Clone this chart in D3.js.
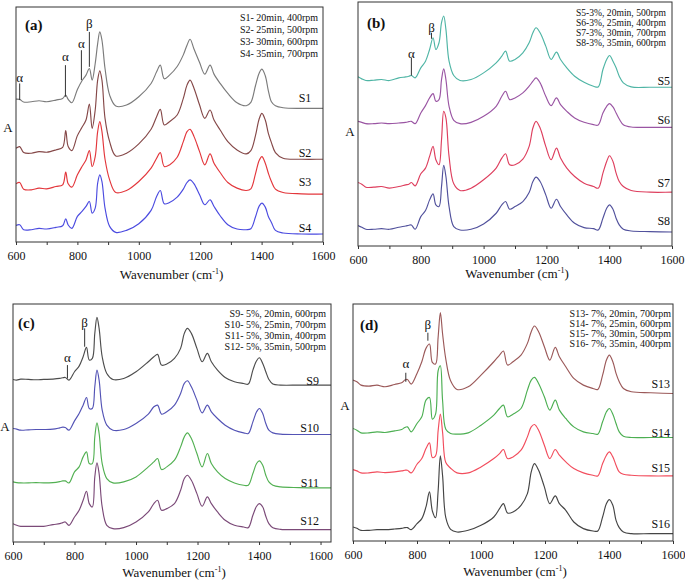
<!DOCTYPE html>
<html>
<head>
<meta charset="utf-8">
<script src="https://cdn.jsdelivr.net/npm/d3@7"></script>
<style>
  body { margin: 0; background: #fff; }
  svg { display: block; font-family: "Liberation Serif", "Times New Roman", serif; }
</style>
</head>
<body>
<div id="chart"></div>
<script>
// wavenumber grid shared by every spectrum (cm-1)
var wavenumbers = [600, 612, 625, 650, 675, 700, 730, 752, 762, 770,
  782, 800, 815, 828, 839, 848, 858, 866, 873, 880,
  890, 905, 925, 960, 1000, 1040, 1058, 1070, 1083, 1100,
  1125, 1145, 1157, 1167, 1180, 1198, 1215, 1232, 1245, 1265,
  1290, 1320, 1350, 1365, 1380, 1392, 1401, 1412, 1422, 1432,
  1445, 1470, 1530, 1600, 1640];

// absorbance, arbitrary units (stacked offsets included)
var s1 = [430, 429, 421, 422, 425, 422, 427, 432, 442, 429, 419, 459, 485, 502, 522, 487, 537, 597, 632, 607, 522, 442, 409, 412, 437, 477, 512, 532, 491, 502, 528, 563, 592, 610, 580, 540, 505, 532, 505, 477, 447, 419, 410, 420, 470, 508, 520, 500, 455, 422, 410, 404, 402, 402, 402];
var s2 = [282, 287, 269, 267, 272, 270, 277, 285, 335, 287, 275, 320, 345, 367, 415, 342, 397, 487, 515, 487, 372, 302, 259, 267, 295, 339, 377, 399, 352, 362, 382, 432, 472, 487, 462, 412, 372, 397, 367, 337, 302, 277, 265, 275, 320, 370, 387, 367, 327, 299, 269, 252, 249, 249, 249];
var s3 = [175, 179, 159, 157, 162, 160, 167, 172, 210, 175, 165, 202, 227, 247, 275, 227, 257, 332, 362, 332, 249, 187, 149, 155, 182, 222, 252, 269, 227, 232, 255, 302, 332, 339, 317, 272, 232, 265, 237, 209, 179, 162, 155, 160, 205, 245, 257, 237, 207, 182, 159, 149, 145, 144, 144];
var s4 = [50, 52, 37, 37, 41, 39, 44, 49, 70, 51, 41, 77, 92, 107, 122, 87, 102, 177, 202, 182, 102, 47, 29, 35, 55, 95, 137, 155, 115, 119, 135, 159, 179, 187, 175, 142, 112, 127, 107, 79, 52, 39, 37, 40, 75, 108, 117, 105, 77, 59, 35, 27, 24, 24, 24];

var s5 = [506, 500, 495, 496, 498, 495, 503, 506, 508, 510, 503, 533, 553, 588, 623, 588, 608, 668, 688, 648, 553, 510, 495, 498, 518, 548, 568, 583, 553, 558, 578, 608, 638, 653, 638, 598, 558, 580, 558, 533, 508, 490, 478, 476, 528, 558, 570, 553, 533, 508, 488, 476, 475, 475, 475];
var s6 = [373, 370, 366, 366, 368, 366, 368, 370, 372, 373, 366, 398, 420, 443, 456, 433, 438, 498, 530, 498, 418, 376, 366, 370, 388, 418, 448, 463, 438, 443, 458, 478, 493, 503, 488, 448, 420, 443, 423, 403, 383, 370, 363, 362, 398, 418, 426, 416, 398, 380, 363, 356, 355, 355, 355];
var s7 = [190, 185, 176, 176, 178, 173, 178, 183, 185, 190, 180, 216, 233, 268, 298, 258, 243, 318, 403, 383, 268, 186, 166, 173, 198, 233, 263, 276, 243, 243, 260, 298, 353, 373, 353, 298, 258, 293, 263, 233, 208, 188, 178, 173, 218, 253, 270, 253, 218, 193, 178, 166, 161, 161, 161];
var s8 = [61, 56, 50, 50, 52, 50, 56, 60, 62, 63, 50, 88, 106, 138, 156, 123, 118, 178, 241, 208, 118, 58, 48, 50, 66, 98, 123, 133, 110, 118, 133, 160, 193, 206, 193, 153, 113, 140, 118, 93, 68, 55, 52, 48, 83, 113, 123, 110, 83, 63, 50, 45, 43, 42, 42];

var s9 = [487, 485, 488, 487, 486, 487, 488, 490, 492, 493, 485, 510, 527, 555, 583, 545, 550, 625, 673, 640, 555, 505, 487, 490, 510, 540, 555, 562, 530, 533, 550, 580, 625, 640, 625, 580, 540, 565, 540, 515, 493, 480, 475, 473, 515, 543, 552, 535, 510, 487, 473, 470, 470, 470, 470];
var s10 = [340, 338, 335, 336, 337, 337, 338, 342, 344, 343, 335, 363, 385, 410, 433, 400, 400, 465, 515, 485, 395, 350, 335, 337, 355, 383, 405, 410, 383, 390, 410, 445, 475, 483, 465, 425, 387, 410, 390, 370, 350, 335, 327, 325, 360, 390, 400, 385, 355, 335, 327, 323, 322, 322, 322];
var s11 = [180, 178, 177, 177, 178, 177, 178, 181, 183, 183, 177, 210, 225, 255, 270, 235, 235, 315, 357, 325, 235, 190, 177, 180, 195, 225, 240, 250, 217, 225, 245, 285, 315, 327, 310, 265, 225, 265, 235, 210, 190, 177, 170, 170, 205, 235, 243, 230, 200, 180, 170, 165, 163, 162, 162];
var s12 = [55, 50, 47, 47, 47, 47, 52, 55, 58, 60, 50, 75, 95, 125, 152, 115, 105, 195, 237, 205, 105, 50, 40, 43, 60, 90, 115, 125, 95, 100, 115, 155, 190, 200, 185, 145, 107, 135, 115, 90, 65, 50, 45, 43, 80, 107, 115, 105, 77, 55, 43, 38, 37, 37, 37];

var s13 = [482, 477, 467, 464, 467, 462, 469, 474, 482, 484, 470, 502, 537, 577, 590, 535, 530, 610, 684, 620, 545, 480, 454, 462, 497, 537, 557, 569, 527, 537, 557, 592, 627, 644, 627, 582, 542, 580, 552, 522, 487, 467, 457, 454, 497, 542, 557, 537, 502, 477, 457, 447, 444, 442, 442];
var s14 = [337, 332, 324, 324, 327, 325, 330, 334, 340, 342, 327, 352, 372, 422, 430, 365, 380, 510, 525, 420, 335, 322, 320, 324, 347, 377, 397, 407, 372, 380, 397, 452, 482, 490, 472, 432, 392, 422, 392, 367, 342, 327, 322, 320, 357, 387, 397, 380, 352, 327, 314, 310, 310, 310, 310];
var s15 = [214, 210, 204, 204, 207, 205, 207, 210, 212, 212, 204, 230, 247, 277, 294, 250, 255, 330, 380, 325, 235, 218, 204, 204, 222, 247, 262, 274, 247, 252, 272, 312, 342, 349, 332, 287, 247, 274, 257, 237, 217, 204, 197, 195, 232, 257, 267, 252, 227, 207, 200, 197, 195, 195, 195];
var s16 = [42, 38, 32, 32, 34, 34, 36, 38, 40, 40, 34, 52, 67, 102, 147, 90, 70, 150, 255, 195, 70, 35, 27, 32, 47, 72, 97, 112, 84, 87, 107, 142, 207, 232, 212, 162, 112, 135, 112, 92, 57, 37, 30, 30, 72, 112, 124, 107, 62, 40, 27, 22, 22, 22, 22];

var namesA = ["S1", "S2", "S3", "S4"];
var namesB = ["S5", "S6", "S7", "S8"];
var namesC = ["S9", "S10", "S11", "S12"];
var namesD = ["S13", "S14", "S15", "S16"];

var legendA = ["S1- 20min, 400rpm", "S2- 25min, 500rpm", "S3- 30min, 600rpm", "S4- 35min, 700rpm"];
var legendB = ["S5-3%, 20min, 500rpm", "S6-3%, 25min, 400rpm", "S7-3%, 30min, 700rpm", "S8-3%, 35min, 600rpm"];
var legendC = ["S9- 5%, 20min, 600rpm", "S10- 5%, 25min, 700rpm", "S11- 5%, 30min, 400rpm", "S12- 5%, 35min, 500rpm"];
var legendD = ["S13- 7%, 20min, 700rpm", "S14- 7%, 25min, 600rpm", "S15- 7%, 30min, 500rpm", "S16- 7%, 35min, 400rpm"];

// where each sample name sits: [wavenumber, absorbance]
var nameAtA = [[1562, 421], [1562, 256], [1562, 168], [1562, 30]];
var nameAtB = [[1594, 482], [1594, 365], [1594, 177], [1594, 63]];
var nameAtC = [[1595, 470], [1595, 330], [1595, 165], [1595, 51]];
var nameAtD = [[1591, 458], [1591, 312], [1591, 207], [1591, 39]];

// alpha / beta phase markers: [symbol, wavenumber, line bottom, line top, label centre]
var markersA = [["α", 612, 427, 477, 495], ["α", 761, 437, 532, 557], ["α", 813, 487, 577, 597], ["β", 839, 527, 632, 657]];
var markersB = [["α", 770, 510, 563, 575], ["β", 834, 620, 638, 655]];
var markersC = [["α", 777, 490, 530, 552], ["β", 833, 585, 640, 657]];
var markersD = [["α", 765, 477, 504, 532], ["β", 834, 600, 624, 649]];

var xTicks = [600, 700, 800, 900, 1000, 1100, 1200, 1300, 1400, 1500, 1600];

var panels = [
  {tag: "(a)", left: 16, right: 323, top: 7, bottom: 242, xmax: 1600, ymax: 707,
   series: [s1, s2, s3, s4], names: namesA, nameAt: nameAtA, legend: legendA, markers: markersA,
   colors: ["#7b7b7b", "#854848", "#e3373c", "#4b4be0"],
   tagPos: [9, 23], legPos: [5, 13.5, 12], legSize: 10, aPos: [8, 132], titleY: 37},
  {tag: "(b)", left: 358, right: 672, top: 2, bottom: 246, xmax: 1600, ymax: 730,
   series: [s5, s6, s7, s8], names: namesB, nameAt: nameAtB, legend: legendB, markers: markersB,
   colors: ["#4fb5a5", "#9a55a3", "#de3f5e", "#51519c"],
   tagPos: [9, 26], legPos: [6, 14, 10], legSize: 9.6, aPos: [-8, 136], titleY: 32},
  {tag: "(c)", left: 13, right: 331, top: 304, bottom: 542, xmax: 1634, ymax: 713,
   series: [s9, s10, s11, s12], names: namesC, nameAt: nameAtC, legend: legendC, markers: markersC,
   colors: ["#4d4d4d", "#5353b5", "#52b052", "#7b4a78"],
   tagPos: [5, 24], legPos: [5, 12.5, 11.3], legSize: 10, aPos: [-8, 431], titleY: 35},
  {tag: "(d)", left: 353, right: 673, top: 304, bottom: 541, xmax: 1600, ymax: 710,
   series: [s13, s14, s15, s16], names: namesD, nameAt: nameAtD, legend: legendD, markers: markersD,
   colors: ["#9b5959", "#4caf52", "#f24d5d", "#454545"],
   tagPos: [7, 26], legPos: [2, 13, 10], legSize: 10, aPos: [-8, 410], titleY: 35}
];

var svg = d3.select("#chart").append("svg")
  .attr("width", 685)
  .attr("height", 584);

panels.forEach(function(p, pi) {
  var x = d3.scaleLinear().domain([600, p.xmax]).range([p.left, p.right]);
  var y = d3.scaleLinear().domain([0, p.ymax]).range([p.bottom, p.top]);
  var g = svg.append("g");

  g.append("clipPath").attr("id", "clip" + pi)
    .append("rect")
    .attr("x", p.left).attr("y", p.top)
    .attr("width", p.right - p.left).attr("height", p.bottom - p.top);

  // spectra
  var line = d3.line()
    .x(function(d, i) { return x(wavenumbers[i]); })
    .y(function(d) { return y(d); })
    .curve(d3.curveCatmullRom.alpha(0.5));
  g.append("g").attr("clip-path", "url(#clip" + pi + ")")
    .selectAll("path")
    .data(p.series)
    .enter().append("path")
    .attr("d", line)
    .attr("fill", "none")
    .attr("stroke", function(d, i) { return p.colors[i]; })
    .attr("stroke-width", 1.15);

  // frame
  g.append("rect")
    .attr("x", p.left).attr("y", p.top)
    .attr("width", p.right - p.left).attr("height", p.bottom - p.top)
    .attr("fill", "none").attr("stroke", "#333").attr("stroke-width", 1);

  // x axis
  var ax = g.append("g")
    .attr("transform", "translate(0," + p.bottom + ")")
    .call(d3.axisBottom(x).tickValues(xTicks).tickSize(3).tickPadding(6)
      .tickFormat(function(d) { return d % 200 === 0 ? d : ""; }));
  ax.select(".domain").remove();
  ax.selectAll("line").attr("stroke", "#333");
  ax.selectAll("text").attr("font-size", 12).attr("fill", "#111")
    .attr("font-family", "Liberation Serif, serif");

  var title = g.append("text")
    .attr("x", (p.left + p.right) / 2 + 2)
    .attr("y", p.bottom + p.titleY)
    .attr("text-anchor", "middle")
    .attr("font-size", 13).attr("fill", "#111");
  title.append("tspan").text("Wavenumber (cm");
  title.append("tspan").text("-1").attr("font-size", 8).attr("dy", -5);
  title.append("tspan").text(")").attr("dy", 5);

  // y label
  g.append("text")
    .attr("x", p.aPos[0] < 0 ? p.left + p.aPos[0] : p.aPos[0])
    .attr("y", p.aPos[1])
    .attr("text-anchor", "middle")
    .attr("font-size", 13).attr("fill", "#111")
    .text("A");

  // panel tag
  g.append("text")
    .attr("x", p.left + p.tagPos[0])
    .attr("y", p.top + p.tagPos[1])
    .attr("font-size", 15).attr("font-weight", "bold").attr("fill", "#111")
    .text(p.tag);

  // legend text
  g.selectAll(".leg")
    .data(p.legend)
    .enter().append("text")
    .attr("x", p.right - p.legPos[0])
    .attr("y", function(d, i) { return p.top + p.legPos[1] + i * p.legPos[2]; })
    .attr("text-anchor", "end")
    .attr("font-size", p.legSize).attr("fill", "#111")
    .text(function(d) { return d; });

  // sample names
  g.selectAll(".nm")
    .data(p.names)
    .enter().append("text")
    .attr("x", function(d, i) { return x(p.nameAt[i][0]); })
    .attr("y", function(d, i) { return y(p.nameAt[i][1]); })
    .attr("text-anchor", "end")
    .attr("font-size", 12).attr("fill", "#111")
    .text(function(d) { return d; });

  // phase markers
  var mk = g.selectAll(".mk")
    .data(p.markers)
    .enter().append("g");
  mk.append("line")
    .attr("x1", function(d) { return x(d[1]); })
    .attr("x2", function(d) { return x(d[1]); })
    .attr("y1", function(d) { return y(d[2]); })
    .attr("y2", function(d) { return y(d[3]); })
    .attr("stroke", "#333").attr("stroke-width", 1);
  mk.append("text")
    .attr("x", function(d) { return x(d[1]); })
    .attr("y", function(d) { return y(d[4]); })
    .attr("dy", "0.35em")
    .attr("text-anchor", "middle")
    .attr("font-size", 13).attr("fill", "#111")
    .text(function(d) { return d[0]; });
});
</script>
</body>
</html>
